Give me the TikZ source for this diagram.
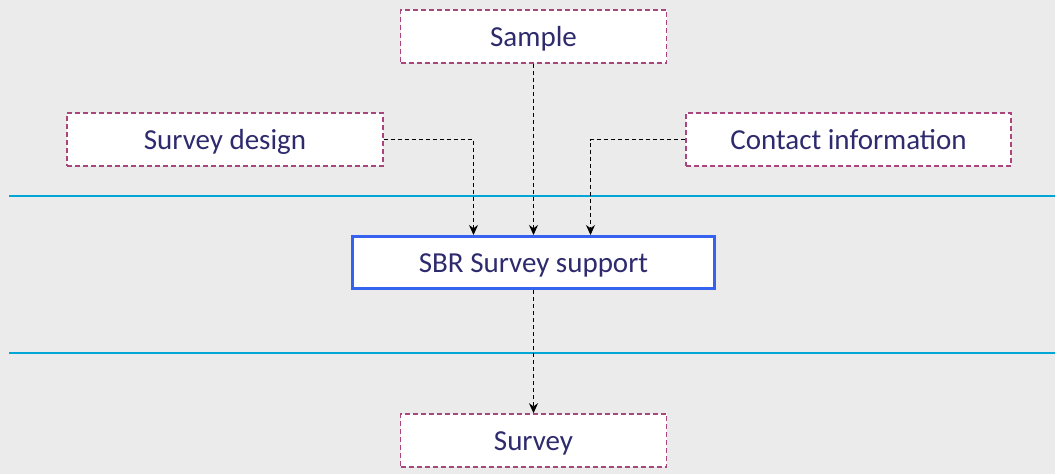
\documentclass[tikz,border=0pt]{standalone}
\usepackage{fontspec}
\setmainfont{Carlito}
\usetikzlibrary{arrows.meta}
\definecolor{bg}{HTML}{EBEBEB}
\definecolor{boxborder}{HTML}{A8457D}
\definecolor{txt}{HTML}{2E2A6E}
\definecolor{sbrblue}{HTML}{3563F0}
\definecolor{cyanline}{HTML}{00A6D6}
\tikzset{
  ext/.style={draw=boxborder, dash pattern=on 5pt off 3pt, line width=1.6pt, fill=white, text=txt, font=\fontsize{29}{33}\selectfont, inner sep=0pt, text height=22pt, text depth=2pt},
  sbr/.style={draw=sbrblue, line width=3pt, fill=white, text=txt, font=\fontsize{29}{33}\selectfont, inner sep=0pt, text height=22pt, text depth=2pt},
  conn/.style={draw=black, dash pattern=on 4pt off 3pt, line width=1.1pt, -{Stealth[length=10pt,width=9pt]}},
  lane/.style={draw=cyanline, line width=2pt}
}
\begin{document}
\begin{tikzpicture}[x=1pt,y=-1pt]
\fill[bg] (0,0) rectangle (1055,474);
\useasboundingbox (0,0) rectangle (1055,474);
\draw[lane] (9,196) -- (1055,196);
\draw[lane] (9,353) -- (1055,353);
\node[ext, minimum width=266pt, minimum height=53pt] (sample) at (533.5,36.5) {Sample};
\node[ext, minimum width=316pt, minimum height=53pt] (design) at (225,139.5) {Survey design};
\node[ext, minimum width=325pt, minimum height=53pt] (contact) at (848.5,139.5) {Contact information};
\node[sbr, minimum width=362pt, minimum height=52pt] (sbr) at (533.5,262.5) {SBR Survey support};
\node[ext, minimum width=266pt, minimum height=53pt] (survey) at (533.5,440.5) {Survey};
\draw[conn] (design.east) -| ([xshift=-60pt]sbr.north);
\draw[conn] (sample.south) -- (sample.south |- sbr.north);
\draw[conn] (contact.west) -| ([xshift=57pt]sbr.north);
\draw[conn] (sbr.south -| survey.north) -- (survey.north);
\end{tikzpicture}
\end{document}
